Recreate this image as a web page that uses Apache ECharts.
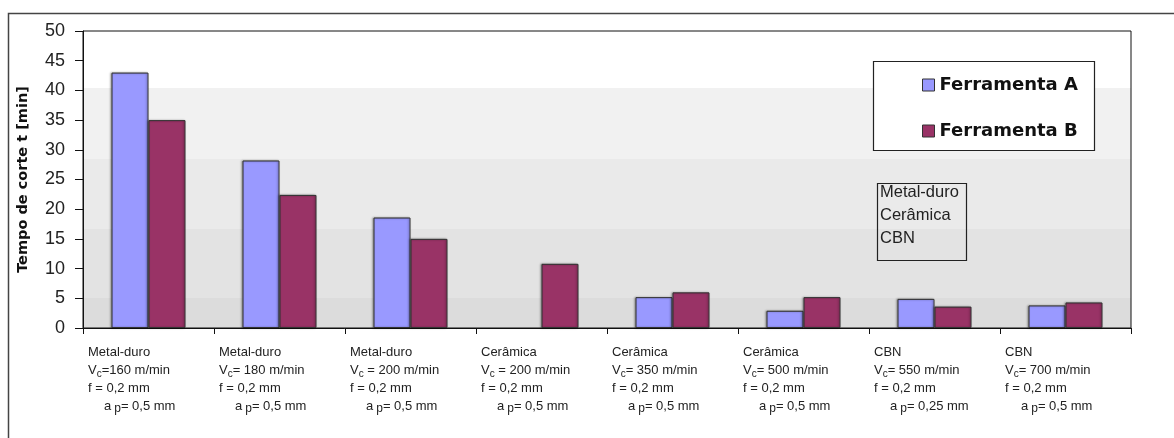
<!DOCTYPE html>
<html>
<head>
<meta charset="utf-8">
<script src="https://cdn.jsdelivr.net/npm/echarts@6/dist/echarts.min.js"></script>
<style>html,body{margin:0;padding:0;background:#fff}#c{width:1174px;height:438px}</style>
</head>
<body>
<div id="c"></div>
<script>
const materials = ['Metal-duro','Metal-duro','Metal-duro','Cerâmica','Cerâmica','Cerâmica','CBN','CBN'];
const vcText = ['=160 m/min','= 180 m/min',' = 200 m/min',' = 200 m/min','= 350 m/min','= 500 m/min','= 550 m/min','= 700 m/min'];
const fText = ['f = 0,2 mm','f = 0,2 mm','f = 0,2 mm','f = 0,2 mm','f = 0,2 mm','f = 0,2 mm','f = 0,2 mm','f = 0,2 mm'];
const apText = ['= 0,5 mm','= 0,5 mm','= 0,5 mm','= 0,5 mm','= 0,5 mm','= 0,5 mm','= 0,25 mm','= 0,5 mm'];
const ferramentaA = [43.0, 28.2, 18.6, null, 5.2, 2.9, 4.9, 3.8];
const ferramentaB = [35.0, 22.4, 15.0, 10.8, 6.0, 5.2, 3.6, 4.3];
const yTicks = {min: 0, max: 50, interval: 5};
const categories = materials.map((m, i) => m + ' ' + vcText[i]);
const toolTypes = ['Metal-duro', 'Cerâmica', 'CBN'];

const chart = echarts.init(document.getElementById('c'), null, {renderer: 'canvas'});
const font = 'Arial, "Liberation Sans", sans-serif';
chart.setOption({
  animation: false,
  backgroundColor: '#fff',
  grid: {
    left: 83, right: 43, top: 31, bottom: 110,
    show: true, borderColor: '#111', borderWidth: 1,
    backgroundColor: {
      type: 'linear', x: 0, y: 0, x2: 0, y2: 1,
      colorStops: [
        {offset: 0, color: '#ffffff'}, {offset: 0.192, color: '#ffffff'},
        {offset: 0.192, color: '#f1f1f1'}, {offset: 0.431, color: '#f1f1f1'},
        {offset: 0.431, color: '#eaeaea'}, {offset: 0.667, color: '#eaeaea'},
        {offset: 0.667, color: '#e3e3e3'}, {offset: 0.899, color: '#e3e3e3'},
        {offset: 0.899, color: '#dcdcdc'}, {offset: 1, color: '#dcdcdc'}
      ]
    }
  },
  legend: {
    left: 917, top: 70, orient: 'vertical', itemGap: 26, z: 10,
    itemWidth: 12, itemHeight: 12, icon: 'rect',
    textStyle: {fontFamily: '"DejaVu Sans", sans-serif', fontWeight: 'bold', fontSize: 18, color: '#111', lineHeight: 20},
    itemStyle: {borderColor: '#333', borderWidth: 1},
    data: ['Ferramenta A', 'Ferramenta B']
  },
  xAxis: {
    type: 'category', data: categories,
    axisLine: {lineStyle: {color: '#111', width: 1}},
    axisTick: {show: true, length: 6, lineStyle: {color: '#111'}},
    axisLabel: {
      interval: 0, margin: 15, width: 121, align: 'center',
      formatter: (v, i) => [
        '{t|' + materials[i] + '}',
        '{t|V}{sub|c}{t|' + vcText[i] + '}',
        '{t|' + fText[i] + '}',
        '{ind| }{t|a}{sp| }{subp|p}{t|' + apText[i] + '}'
      ].join('\n'),
      rich: {
        t: {fontFamily: font, fontSize: 13, color: '#222', lineHeight: 18, align: 'left'},
        sub: {fontFamily: font, fontSize: 10, color: '#222', lineHeight: 11, verticalAlign: 'bottom', align: 'left'},
        subp: {fontFamily: font, fontSize: 12, color: '#222', lineHeight: 11, verticalAlign: 'bottom', align: 'left'},
        ind: {fontFamily: font, fontSize: 13, width: 16, lineHeight: 18, align: 'left'},
        sp: {fontFamily: font, fontSize: 13, width: 3, lineHeight: 18, align: 'left'}
      }
    }
  },
  yAxis: {
    type: 'value', min: yTicks.min, max: yTicks.max, interval: yTicks.interval,
    name: 'Tempo de corte t [min]', nameLocation: 'middle', nameGap: 52, nameRotate: 90,
    nameTextStyle: {fontFamily: '"DejaVu Sans", sans-serif', fontWeight: 'bold', fontSize: 14.5, color: '#111'},
    axisLine: {show: true, lineStyle: {color: '#111', width: 1}},
    axisTick: {show: true, length: 8, lineStyle: {color: '#111'}},
    splitLine: {show: false},
    axisLabel: {fontFamily: font, fontSize: 18, color: '#222', margin: 18}
  },
  series: [
    {
      name: 'Ferramenta A', type: 'bar', data: ferramentaA, barWidth: 37, barGap: '0%',
      itemStyle: {color: '#9999ff', borderColor: '#333', borderWidth: 1, shadowColor: 'rgba(0,0,0,0.35)', shadowBlur: 2, shadowOffsetX: -1}
    },
    {
      name: 'Ferramenta B', type: 'bar', data: ferramentaB, barWidth: 37, barGap: '0%',
      itemStyle: {color: '#993366', borderColor: '#333', borderWidth: 1, shadowColor: 'rgba(0,0,0,0.35)', shadowBlur: 2, shadowOffsetX: -1}
    }
  ],
  graphic: [
    {type: 'rect', z: -1, shape: {x: 8.5, y: 13.5, width: 1300, height: 600}, style: {fill: null, stroke: '#444', lineWidth: 1.5}, silent: true},
    {type: 'rect', z: 3, shape: {x: 873.5, y: 61.5, width: 221, height: 89}, style: {fill: '#fff', stroke: '#222', lineWidth: 1.2}, silent: true},
    {type: 'rect', z: 3, shape: {x: 877.5, y: 183.5, width: 89, height: 77}, style: {fill: 'rgba(0,0,0,0)', stroke: '#222', lineWidth: 1.2}, silent: true},
    {type: 'text', z: 4, left: 880, top: 181, style: {text: toolTypes.join('\n'), fontFamily: font, fontSize: 16.5, lineHeight: 23, fill: '#222'}, silent: true}
  ]
});
</script>
</body>
</html>
